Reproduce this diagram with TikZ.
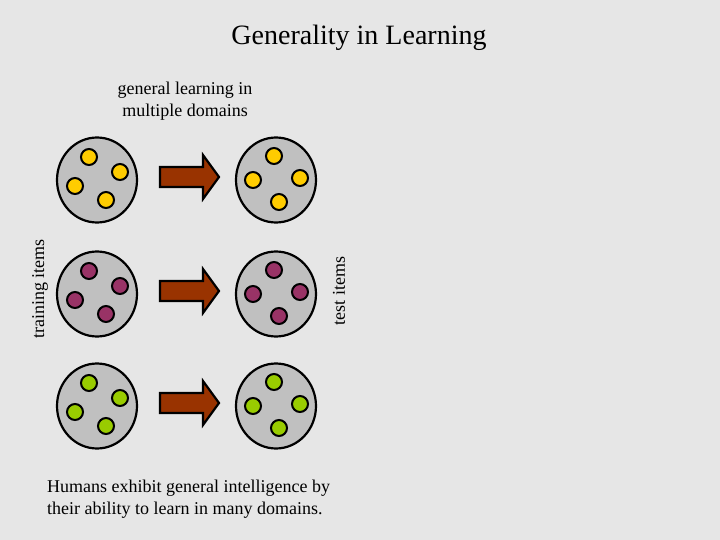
\documentclass[tikz,border=0pt]{standalone}
\usepackage{fontspec}
\setmainfont{Liberation Serif}
\usetikzlibrary{shapes.geometric,calc}
\definecolor{bg}{HTML}{E6E6E6}
\definecolor{disk}{HTML}{C0C0C0}
\definecolor{dotY}{HTML}{FFCC00}
\definecolor{dotP}{HTML}{993366}
\definecolor{dotG}{HTML}{99CC00}
\definecolor{arr}{HTML}{993300}
\begin{document}
\begin{tikzpicture}[x=1pt,y=-1pt,
  diskshape/.style={ellipse, draw=black, line width=2.2pt, fill=disk, minimum width=80pt, minimum height=85pt, inner sep=0pt},
  dotshape/.style={circle, draw=black, line width=2pt, minimum size=16pt, inner sep=0pt},
  bigarrow/.style={draw=black, line width=2.2pt, fill=arr, line join=miter},
  lbl/.style={font=\fontsize{18}{22}\selectfont, align=center, inner sep=0pt}]
\useasboundingbox[fill=bg] (0,0) rectangle (720,540);
\node[font=\fontsize{28}{32}\selectfont, inner sep=0pt] (title) at (359,38) {Generality in Learning};
\node[lbl] (top) at (185,101) {general learning in\\multiple domains};
\node[lbl, rotate=90] (train) at (40,289) {training items};
\node[lbl, rotate=90] (test) at (339,291) {test items};
\node[lbl, align=left, anchor=north west] (bottom) at (47,480) {Humans exhibit general intelligence by\\their ability to learn in many domains.};
\foreach \r/\y/\c in {1/180/dotY,2/294/dotP,3/406/dotG}{
  \node[diskshape] (tr\r) at (97,\y) {};
  \node[diskshape] (te\r) at (276,\y) {};
  \node[dotshape, fill=\c] (tr\r a) at ($(97,\y)+(-8,-23)$) {};
  \node[dotshape, fill=\c] (tr\r b) at ($(97,\y)+(23,-8)$) {};
  \node[dotshape, fill=\c] (tr\r c) at ($(97,\y)+(-22,6)$) {};
  \node[dotshape, fill=\c] (tr\r d) at ($(97,\y)+(9,20)$) {};
  \node[dotshape, fill=\c] (te\r a) at ($(276,\y)+(-2,-24)$) {};
  \node[dotshape, fill=\c] (te\r b) at ($(276,\y)+(-23,0)$) {};
  \node[dotshape, fill=\c] (te\r c) at ($(276,\y)+(24,-2)$) {};
  \node[dotshape, fill=\c] (te\r d) at ($(276,\y)+(3,22)$) {};
  \draw[bigarrow] ($(160,\y)+(0,-13)$) -- ($(203,\y)+(0,-13)$) -- ($(203,\y)+(0,-25)$) -- ($(219,\y)+(0,-3)$) -- ($(203,\y)+(0,19)$) -- ($(203,\y)+(0,7)$) -- ($(160,\y)+(0,7)$) -- cycle;
}
\end{tikzpicture}
\end{document}
